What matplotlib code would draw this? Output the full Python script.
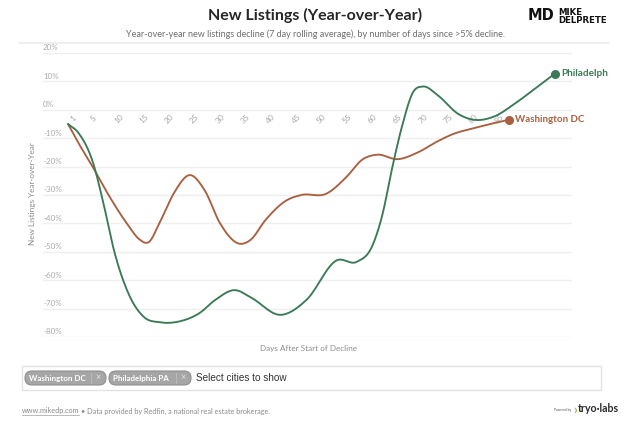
import numpy as np
import matplotlib
matplotlib.use("Agg")
import matplotlib.pyplot as plt
from matplotlib.patches import FancyBboxPatch, Rectangle
from matplotlib.lines import Line2D
from matplotlib.transforms import offset_copy

# ---------------- data ----------------
phil_days = [1, 3, 6, 8, 10, 13, 16, 19, 23, 27, 30, 34, 37, 43, 48, 54, 58,
             61, 63, 65, 67, 69, 71, 74, 78, 81, 85, 89, 93, 97]
phil_vals = [-5, -8, -19, -33, -49, -65, -73, -74.8, -74.5, -71.5, -67, -63.5, -66,
             -72.2, -67, -53, -53.5, -48, -37, -20, -5, 6, 8.2, 5, -1.5, -3.5, -2.4,
             2, 7.3, 12.7]

dc_days = [1, 3, 6, 9, 13, 15, 17, 19, 22, 25, 28, 31, 35, 37, 40, 44, 47, 52, 56,
           59, 62, 66, 70, 74, 77, 81, 85, 88]
dc_vals = [-5, -11.5, -20.5, -30, -41, -45.5, -46.5, -40, -29, -23, -28.5, -40, -47.2,
           -45.8, -38.7, -32, -30, -29.5, -23.5, -17.6, -15.8, -17.4, -15, -11, -8.5,
           -6.5, -4.7, -3.5]

x_ticks = [1, 5, 10, 15, 20, 25, 30, 35, 40, 45, 50, 55, 60, 65, 70, 75, 80, 85]
y_ticks = [20, 10, 0, -10, -20, -30, -40, -50, -60, -70, -80]

phil_end_label = "Philadelph"   # truncated at the chart edge in the reference
dc_end_label = "Washington DC"
chip_labels = ["Washington DC", "Philadelphia PA"]

GREEN = "#3a7a56"
BROWN = "#a95f40"

W, H = 624, 426
plt.rcParams["font.family"] = ["Lato", "DejaVu Sans"]

fig = plt.figure(figsize=(W / 100, H / 100), dpi=100)
fig.patch.set_facecolor("white")


def fx(x):
    return x / W


def fy(y):
    return 1 - y / H


def smooth(xs, ys, n=16):
    """Cubic Hermite rendering (spline) through the read points."""
    xs = np.asarray(xs, float)
    ys = np.asarray(ys, float)
    h = np.diff(xs)
    d = np.diff(ys) / h
    m = np.zeros_like(ys)
    m[1:-1] = (h[1:] * d[:-1] + h[:-1] * d[1:]) / (h[:-1] + h[1:])
    m[0] = d[0]
    m[-1] = d[-1]
    ox, oy = [], []
    for i in range(len(xs) - 1):
        t = np.linspace(0, 1, n, endpoint=False)
        h00 = 2 * t**3 - 3 * t**2 + 1
        h10 = t**3 - 2 * t**2 + t
        h01 = -2 * t**3 + 3 * t**2
        h11 = t**3 - t**2
        ox.extend(xs[i] + t * h[i])
        oy.extend(h00 * ys[i] + h10 * h[i] * m[i] + h01 * ys[i + 1] + h11 * h[i] * m[i + 1])
    ox.append(xs[-1])
    oy.append(ys[-1])
    return np.array(ox), np.array(oy)


# ---------------- axes ----------------
ax_l, ax_r, ax_t, ax_b = 43, 572, 53, 337
ax = fig.add_axes([fx(ax_l), fy(ax_b), fx(ax_r) - fx(ax_l), fy(ax_t) - fy(ax_b)])
px_per_day = 5.07
day1_px = 68
ax.set_xlim(1 - (day1_px - ax_l) / px_per_day, 1 + (ax_r - day1_px) / px_per_day)
ax.set_ylim(-80, 20)
ax.set_facecolor("none")
for s in ax.spines.values():
    s.set_visible(False)
ax.set_xticks([])
ax.set_yticks([])

for v in y_ticks:
    ax.axhline(v, color="#efefef", lw=1.0, zorder=0)
    tr = offset_copy(ax.get_yaxis_transform(), fig=fig, x=0, y=2.5, units="dots")
    ax.text(0, v, f"{v}%", transform=tr, ha="left", va="baseline",
            fontsize=5.8, color="#ababab")

for d in x_ticks:
    tr = offset_copy(ax.transData, fig=fig, x=5, y=-9, units="dots")
    ax.text(d, 0, str(d), transform=tr, ha="center", va="center", rotation=45,
            fontsize=6.0, color="#a8a8a8")

# lines
for days, vals, col in [(dc_days, dc_vals, BROWN), (phil_days, phil_vals, GREEN)]:
    sx, sy = smooth(days, vals)
    ax.plot(sx, sy, color=col, lw=1.35, solid_capstyle="round", clip_on=False, zorder=3)
    ax.plot([days[-1]], [vals[-1]], "o", color=col, ms=5.5, clip_on=False, zorder=4)

ax.annotate(phil_end_label, (phil_days[-1], phil_vals[-1]), xytext=(4.5, 0),
            textcoords="offset points", ha="left", va="center",
            fontsize=7.2, fontweight="bold", color=GREEN, annotation_clip=False)
ax.annotate(dc_end_label, (dc_days[-1], dc_vals[-1]), xytext=(4, 0),
            textcoords="offset points", ha="left", va="center",
            fontsize=7.0, fontweight="bold", color=BROWN, annotation_clip=False)

# axis titles
fig.text(fx(32), fy(194), "New Listings Year-over-Year", rotation=90, ha="center",
         va="center", fontsize=5.9, color="#8c8c8c")
fig.text(fx(308), fy(349), "Days After Start of Decline", ha="center", va="center",
         fontsize=5.9, color="#8c8c8c")

# ---------------- header ----------------
fig.text(fx(315), fy(15), "New Listings (Year-over-Year)", ha="center", va="center",
         fontsize=11.5, fontweight="bold", color="#262626")
fig.text(fx(316), fy(34), "Year-over-year new listings decline (7 day rolling average), "
         "by number of days since >5% decline.", ha="center", va="center",
         fontsize=6.5, color="#6e6e6e")
fig.add_artist(Line2D([fx(20), fx(608)], [fy(43), fy(43)], color="#eeeeee", lw=1.5))

# logo
fig.text(fx(528), fy(16), "MD", ha="left", va="center", fontsize=10.5,
         fontweight="black", color="#111111", family=["DejaVu Sans"])
fig.text(fx(558), fy(12.5), "MIKE", ha="left", va="center", fontsize=6.2,
         fontweight="bold", color="#111111", family=["DejaVu Sans"])
fig.text(fx(558), fy(20.5), "DELPRETE", ha="left", va="center", fontsize=6.2,
         fontweight="bold", color="#111111", family=["DejaVu Sans"])

# ---------------- city selector box ----------------
fig.add_artist(Rectangle((fx(22), fy(390)), fx(601) - fx(22), fy(366) - fy(390),
                         facecolor="white", edgecolor="#e3e3e3", lw=1.0))
chip_x = [(25, 106), (109, 191)]
for (x0, x1), lab in zip(chip_x, chip_labels):
    fig.add_artist(FancyBboxPatch((fx(x0), fy(385)), fx(x1) - fx(x0), fy(371) - fy(385),
                                  boxstyle="round,pad=0,rounding_size=0.011",
                                  facecolor="#a6a6a6", edgecolor="#8f8f8f", lw=0.8,
                                  mutation_aspect=W / H))
    fig.text(fx(x0 + 4), fy(378), lab, ha="left", va="center", fontsize=5.8,
             color="white", fontweight="bold")
    fig.add_artist(Line2D([fx(x1 - 15), fx(x1 - 15)], [fy(373), fy(383)],
                          color="#bdbdbd", lw=0.6))
    fig.text(fx(x1 - 8), fy(378), "×", ha="center", va="center", fontsize=6.5,
             color="#e6e6e6")
fig.text(fx(196), fy(378), "Select cities to show", ha="left", va="center",
         fontsize=7.2, color="#333333", family=["Liberation Sans", "DejaVu Sans"])

# ---------------- footer ----------------
ft = fig.text(fx(22), fy(411), "www.mikedp.com", ha="left", va="center",
              fontsize=5.2, color="#8a8a8a")
tl = fig.text(fx(619), fy(409), "tryo·labs", ha="right", va="center", fontsize=7.6,
              fontweight="bold", color="#2a2a2a")
fig.canvas.draw()
bb = ft.get_window_extent()
fig.add_artist(Line2D([bb.x0 / W, bb.x1 / W], [fy(414.5), fy(414.5)],
                      color="#a0a0a0", lw=0.5))
fig.text(bb.x1 / W + 2 / W, fy(411),
         "• Data provided by Redfin, a national real estate brokerage.",
         ha="left", va="center", fontsize=5.2, color="#8a8a8a")

tb = tl.get_window_extent()
chev = fig.text((tb.x0 - 1) / W, fy(409.5), "›", ha="right", va="center", fontsize=10,
                color="#9bc43c", fontweight="bold")
fig.canvas.draw()
cb = chev.get_window_extent()
fig.text((cb.x0 - 2) / W, fy(410), "Powered by", ha="right", va="center", fontsize=2.3,
         color="#555555")

fig.savefig("out.png", dpi=100, facecolor="white")
